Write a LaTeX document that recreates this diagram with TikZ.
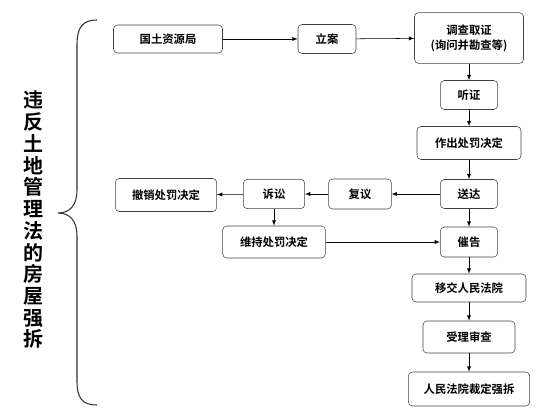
\documentclass[tikz,border=0pt]{standalone}
\usepackage{fontspec}
\setmainfont{Noto Sans CJK SC}[BoldFont={Noto Sans CJK SC Bold}]
\usetikzlibrary{arrows}

\begin{document}
\begin{tikzpicture}[x=0.75pt,y=-0.75pt,>=latex,
  box/.style={draw=black!75,rounded corners=3pt,inner sep=0pt,align=center,
    font=\bfseries\fontsize{8.5}{11}\selectfont}]
  \useasboundingbox (0,0) rectangle (550,410);
  % left title and brace
  \node[font=\bfseries\fontsize{15}{16.3}\selectfont,align=center] (title) at (33,220)
    {违\\反\\土\\地\\管\\理\\法\\的\\房\\屋\\强\\拆};
  \draw[black!80,line width=0.8pt] (97,20) .. controls (82,20) and (77,28) .. (77,45)
    -- (77,190) .. controls (77,205) and (70,213) .. (58,213)
    .. controls (70,213) and (77,221) .. (77,236) -- (77,381)
    .. controls (77,398) and (82,405) .. (97,405);
  % top row
  \node[box,minimum width=81.75pt,minimum height=21pt] (guotu) at (168,39) {国土资源局};
  \node[box,minimum width=43.5pt,minimum height=21.75pt] (lian) at (327,39) {立案};
  \node[box,minimum width=81.75pt,minimum height=38pt] (diaocha) at (469,38)
    {调查取证\\(询问并勘查等)};
  % right column
  \node[box,minimum width=43pt,minimum height=21.75pt] (tingzheng) at (469,95) {听证};
  \node[box,minimum width=78pt,minimum height=24.75pt] (jueding) at (469,143) {作出处罚决定};
  \node[box,minimum width=43pt,minimum height=21.75pt] (songda) at (469,194) {送达};
  % middle row
  \node[box,minimum width=47pt,minimum height=22.5pt] (fuyi) at (360,194) {复议};
  \node[box,minimum width=46pt,minimum height=22pt] (susong) at (274,194) {诉讼};
  \node[box,minimum width=76pt,minimum height=24.75pt] (chexiao) at (166,195) {撤销处罚决定};
  \node[box,minimum width=77pt,minimum height=24pt] (weichi) at (274,242) {维持处罚决定};
  \node[box,minimum width=43pt,minimum height=22.5pt] (cuigao) at (469,242) {催告};
  % bottom column
  \node[box,minimum width=85.5pt,minimum height=21pt] (yijiao) at (469,288) {移交人民法院};
  \node[box,minimum width=69pt,minimum height=24pt] (shouli) at (469,337) {受理审查};
  \node[box,minimum width=91pt,minimum height=25.5pt] (caiding) at (469,389) {人民法院裁定强拆};
  % connectors
  \draw[->] (guotu) -- (lian);
  \draw[->] (lian) -- (diaocha);
  \draw[->] (diaocha) -- (tingzheng);
  \draw[->] (tingzheng) -- (jueding);
  \draw[->] (jueding) -- (songda);
  \draw[->] (songda) -- (fuyi);
  \draw[->] (fuyi) -- (susong);
  \draw[->] (susong) -- (chexiao);
  \draw[->] (susong) -- (weichi);
  \draw[->] (weichi) -- (cuigao);
  \draw[->] (songda) -- (cuigao);
  \draw[->] (cuigao) -- (yijiao);
  \draw[->] (yijiao) -- (shouli);
  \draw[->] (shouli) -- (caiding);
\end{tikzpicture}
\end{document}
